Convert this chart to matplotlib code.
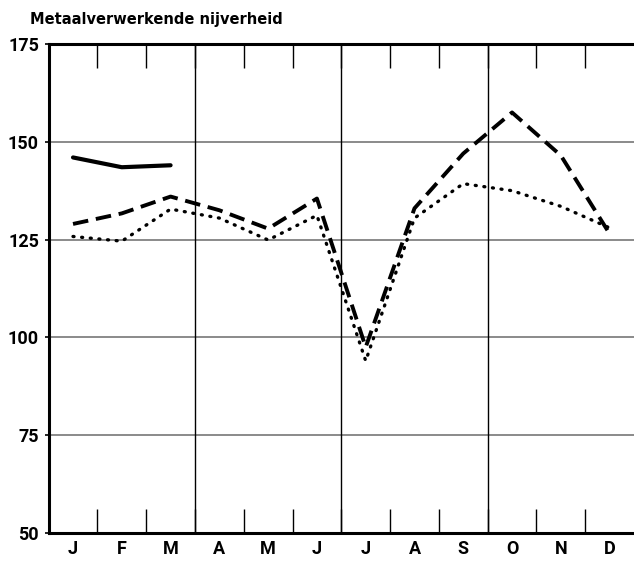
import numpy as np
import matplotlib.pyplot as plt

# Metaalverwerkende nijverheid, indexcijfers per maand
maanden = ['J', 'F', 'M', 'A', 'M', 'J', 'J', 'A', 'S', 'O', 'N', 'D']
reeks_doorgetrokken = [146, 143.5, 144, None, None, None, None, None, None, None, None, None]
reeks_gestreept = [129, 131.7, 136, 132.5, 127.8, 135.5, 97.5, 133, 147, 157.5, 146.5, 126.5]
reeks_gestippeld = [125.8, 124.6, 132.8, 130.5, 124.9, 131.2, 94, 130.5, 139.3, 137.5, 133.5, 128]
y_ticks = [50, 75, 100, 125, 150, 175]

plt.rcParams['font.family'] = ['Roboto', 'DejaVu Sans']

fig = plt.figure(figsize=(6.34, 5.62), dpi=100)
ax = fig.add_axes([0.0767, 0.0516, 0.9233, 0.8701])

x = np.arange(len(maanden)) + 0.5
def as_arr(v):
    return np.array([np.nan if a is None else a for a in v], dtype=float)

# rasterlijnen
for yv in y_ticks[1:-1]:
    ax.axhline(yv, color='#8a8a8a', lw=1.4, zorder=1)
for xv in [3, 6, 9]:
    ax.axvline(xv, color='black', lw=1.0, zorder=1)

ax.plot(x, as_arr(reeks_doorgetrokken), color='black', lw=3.0, solid_capstyle='round', zorder=3)
ax.plot(x, as_arr(reeks_gestreept), color='black', lw=2.8, dashes=(4.0, 2.0), zorder=3)
ax.plot(x, as_arr(reeks_gestippeld), color='black', lw=2.4, dashes=(0.3, 2.3),
        dash_capstyle='round', zorder=3)

ax.set_xlim(0, 12)
ax.set_ylim(50, 175)
ax.set_xticks(x)
ax.set_xticklabels(maanden, fontsize=13, fontweight='bold')
ax.set_xticks(np.arange(1, 12), minor=True)
ax.tick_params(axis='x', which='major', length=0, pad=5)
ax.tick_params(axis='x', which='minor', direction='in', length=17, width=1.0,
               top=True, bottom=True)
ax.set_yticks(y_ticks)
ax.set_yticklabels([str(v) for v in y_ticks], fontsize=13, fontweight='bold')
ax.tick_params(axis='y', which='major', length=3, width=1.2, pad=4)

for s in ['left', 'bottom', 'top']:
    ax.spines[s].set_linewidth(2.2)
ax.spines['right'].set_visible(False)

fig.text(0.047, 0.965, 'Metaalverwerkende nijverheid', fontsize=10.5,
         fontweight='bold', ha='left', va='center', family='DejaVu Sans')

fig.savefig('out.png', dpi=100)
